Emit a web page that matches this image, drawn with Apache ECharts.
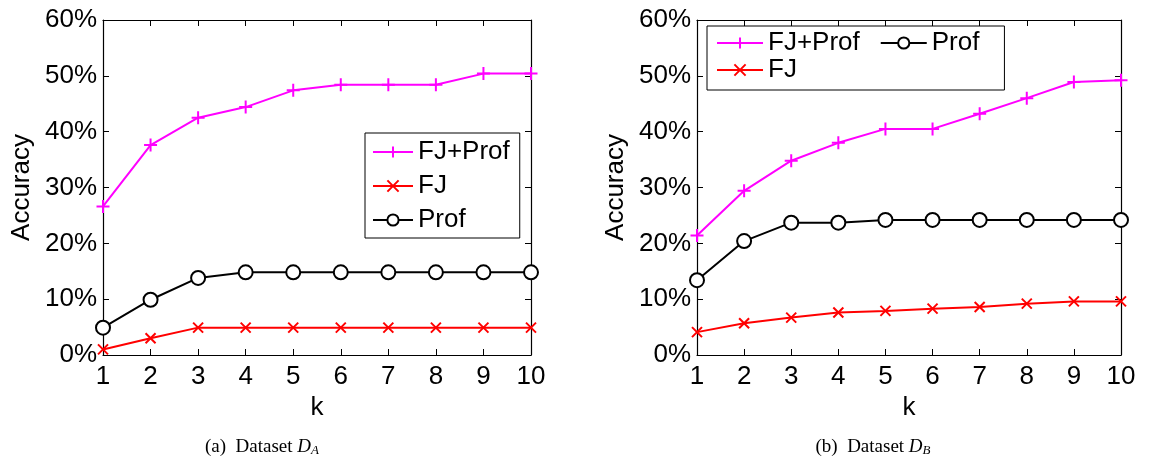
<!DOCTYPE html>
<html>
<head>
<meta charset="utf-8">
<script src="https://cdn.jsdelivr.net/npm/echarts@6/dist/echarts.min.js"></script>
<style>
  html, body { margin: 0; padding: 0; background: #ffffff; }
  #chart { width: 1150px; height: 466px; }
</style>
</head>
<body>
<div id="chart"></div>
<script>
// k values on the x axis
const kValues = [1, 2, 3, 4, 5, 6, 7, 8, 9, 10];
// Accuracy tick range (%)
const yMin = 0, yMax = 60, yStep = 10;

// Dataset D_A accuracy (%)
const daFJProf = [26.6, 37.6, 42.5, 44.4, 47.4, 48.4, 48.4, 48.4, 50.4, 50.4];
const daFJ     = [1.0, 3.0, 4.9, 4.9, 4.9, 4.9, 4.9, 4.9, 4.9, 4.9];
const daProf   = [4.9, 9.9, 13.8, 14.8, 14.8, 14.8, 14.8, 14.8, 14.8, 14.8];

// Dataset D_B accuracy (%)
const dbFJProf = [21.4, 29.4, 34.8, 38.0, 40.5, 40.5, 43.2, 46.0, 48.9, 49.2];
const dbFJ     = [4.1, 5.7, 6.7, 7.6, 7.9, 8.3, 8.6, 9.2, 9.6, 9.6];
const dbProf   = [13.4, 20.4, 23.7, 23.7, 24.2, 24.2, 24.2, 24.2, 24.2, 24.2];

const FONT = '"Liberation Sans", Arial, Helvetica, sans-serif';
const SERIF = '"Liberation Serif", "DejaVu Serif", serif';
const FS = 26;

const PLUS = 'path://M0,-5L0,5M-5,0L5,0';
const CROSS = 'path://M-5,-5L5,5M5,-5L-5,5';

const toPairs = arr => kValues.map((k, i) => [k, arr[i]]);

const grids = [
  { left: 103, top: 20, width: 428, height: 335 },
  { left: 697, top: 20, width: 424, height: 335 }
];

function xAxes(gridIndex) {
  const base = {
    gridIndex, type: 'value', min: 1, max: 10, interval: 1,
    axisLine: { show: true, onZero: false, lineStyle: { color: '#000', width: 1.2 } },
    axisTick: { show: true, inside: true, length: 6, lineStyle: { color: '#000' } },
    splitLine: { show: false }
  };
  return [
    Object.assign({}, base, {
      position: 'bottom',
      name: 'k', nameLocation: 'middle', nameGap: 36,
      nameTextStyle: { fontFamily: FONT, fontSize: FS, color: '#000' },
      axisLabel: { show: true, fontFamily: FONT, fontSize: FS, color: '#000', margin: 9 }
    }),
    Object.assign({}, base, { position: 'top', axisLabel: { show: false } })
  ];
}

function yAxes(gridIndex) {
  const base = {
    gridIndex, type: 'value', min: yMin, max: yMax, interval: yStep,
    axisLine: { show: true, onZero: false, lineStyle: { color: '#000', width: 1.2 } },
    axisTick: { show: true, inside: true, length: 6, lineStyle: { color: '#000' } },
    splitLine: { show: false }
  };
  return [
    Object.assign({}, base, {
      position: 'left',
      name: 'Accuracy', nameLocation: 'middle', nameGap: 68,
      nameTextStyle: { fontFamily: FONT, fontSize: FS, color: '#000' },
      axisLabel: { show: true, fontFamily: FONT, fontSize: FS, color: '#000', margin: 6,
                   formatter: '{value}%' }
    }),
    Object.assign({}, base, { position: 'right', axisLabel: { show: false } })
  ];
}

function lineSeries(name, data, axisIdx, color, symbol, size, fill) {
  return {
    name, type: 'line', xAxisIndex: axisIdx, yAxisIndex: axisIdx,
    data: toPairs(data),
    symbol, symbolSize: size, showSymbol: true,
    lineStyle: { color, width: 2 },
    itemStyle: { color: fill, borderColor: color, borderWidth: 2 },
    z: 3
  };
}

const legendText = { fontFamily: FONT, fontSize: FS, color: '#000' };

const option = {
  animation: false,
  backgroundColor: '#ffffff',
  grid: grids,
  xAxis: [...xAxes(0), ...xAxes(1)],
  yAxis: [...yAxes(0), ...yAxes(1)],
  legend: [
    {
      data: ['FJ+Prof', 'FJ', 'Prof'], orient: 'vertical',
      left: 365, top: 133, itemWidth: 40, itemHeight: 14, itemGap: 8,
      padding: [6, 10, 5, 7], borderColor: '#000', borderWidth: 1,
      backgroundColor: '#fff', textStyle: legendText, selectedMode: false
    },
    {
      data: ['FJ+Prof', 'Prof'], orient: 'horizontal',
      left: 707, top: 26, itemWidth: 46, itemHeight: 14, itemGap: 20,
      padding: [4, 25, 34, 9], borderColor: '#000', borderWidth: 1,
      backgroundColor: '#fff', textStyle: legendText, selectedMode: false
    },
    {
      data: ['FJ'], orient: 'horizontal',
      left: 716, top: 57, itemWidth: 46, itemHeight: 14,
      padding: 0, textStyle: legendText, selectedMode: false
    }
  ],
  series: [
    lineSeries('FJ+Prof', daFJProf, 0, '#ff00ff', PLUS, 13, '#ff00ff'),
    lineSeries('FJ', daFJ, 0, '#ff0000', CROSS, 10, '#ff0000'),
    lineSeries('Prof', daProf, 0, '#000000', 'circle', 14, '#ffffff'),
    lineSeries('FJ+Prof', dbFJProf, 2, '#ff00ff', PLUS, 13, '#ff00ff'),
    lineSeries('FJ', dbFJ, 2, '#ff0000', CROSS, 10, '#ff0000'),
    lineSeries('Prof', dbProf, 2, '#000000', 'circle', 14, '#ffffff')
  ],
  graphic: [
    {
      type: 'text', x: 262, y: 447,
      style: {
        text: '{n|(a)  Dataset }{i|D}{s|A}', align: 'center', verticalAlign: 'middle',
        rich: {
          n: { fontFamily: SERIF, fontSize: 19, color: '#000' },
          i: { fontFamily: SERIF, fontSize: 19, fontStyle: 'italic', color: '#000' },
          s: { fontFamily: SERIF, fontSize: 13, fontStyle: 'italic', color: '#000', verticalAlign: 'bottom', padding: [8, 0, 0, 0] }
        }
      }
    },
    {
      type: 'text', x: 873, y: 447,
      style: {
        text: '{n|(b)  Dataset }{i|D}{s|B}', align: 'center', verticalAlign: 'middle',
        rich: {
          n: { fontFamily: SERIF, fontSize: 19, color: '#000' },
          i: { fontFamily: SERIF, fontSize: 19, fontStyle: 'italic', color: '#000' },
          s: { fontFamily: SERIF, fontSize: 13, fontStyle: 'italic', color: '#000', verticalAlign: 'bottom', padding: [8, 0, 0, 0] }
        }
      }
    }
  ]
};

const chart = echarts.init(document.getElementById('chart'), null, { renderer: 'canvas' });
chart.setOption(option);
</script>
</body>
</html>
